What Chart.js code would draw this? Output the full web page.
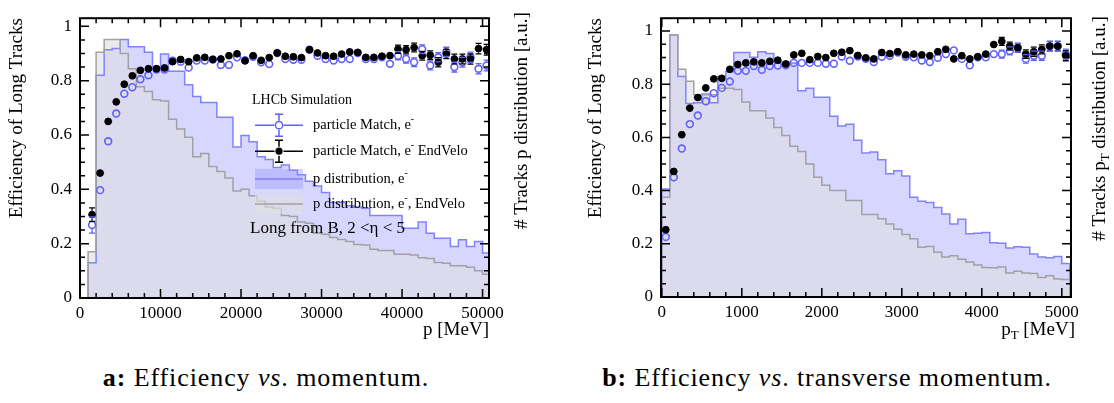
<!DOCTYPE html>
<html>
<head>
<meta charset="utf-8">
<script src="https://cdn.jsdelivr.net/npm/chart.js@4.4.0/dist/chart.umd.min.js"></script>
<style>
  body { margin: 0; background: #fff; width: 1114px; height: 403px; position: relative; overflow: hidden; }
  #efiP { position: absolute; left: 0; top: 0; }
  #efiPT { position: absolute; left: 560px; top: 0; }
  .legenda { position: absolute; top: 363px; font-family: "Liberation Serif", serif; font-size: 26px; letter-spacing: 0.9px; color: #000; white-space: nowrap; transform: translateX(-50%); }
</style>
</head>
<body>
<canvas id="efiP" width="545" height="345"></canvas>
<canvas id="efiPT" width="554" height="345"></canvas>
<div class="legenda" style="left:266px"><b>a:</b> Efficiency <i>vs</i>. momentum.</div>
<div class="legenda" style="left:827px"><b>b:</b> Efficiency <i>vs</i>. transverse momentum.</div>
<script>
// ---------- DADOS ----------
var ticksEff = [0, 0.2, 0.4, 0.6, 0.8, 1];

// painel a: momento p [MeV], bins de 1000 a partir de 1000
var ticksP = [0, 10000, 20000, 30000, 40000, 50000];
var inicioP = 1000;
var larguraP = 1000;
var histP = [0.13, 0.82, 0.914, 0.918, 0.952, 0.925, 0.925, 0.905, 0.85, 0.898,
             0.835, 0.835, 0.785, 0.742, 0.72, 0.72, 0.665, 0.665, 0.556, 0.598,
             0.575, 0.52, 0.51, 0.48, 0.49, 0.47, 0.454, 0.43, 0.412, 0.388,
             0.352, 0.352, 0.34, 0.335, 0.33, 0.304, 0.304, 0.304, 0.304, 0.257,
             0.257, 0.28, 0.238, 0.22, 0.22, 0.19, 0.214, 0.19, 0.208, 0.166];
var histPEndVelo = [0.17, 0.905, 0.952, 0.952, 0.90, 0.844, 0.778, 0.76, 0.73, 0.725,
                    0.658, 0.622, 0.592, 0.52, 0.532, 0.484, 0.466, 0.442, 0.394, 0.40,
                    0.376, 0.356, 0.335, 0.33, 0.304, 0.30, 0.28, 0.275, 0.238, 0.235,
                    0.223, 0.215, 0.208, 0.197, 0.195, 0.179, 0.175, 0.175, 0.161, 0.161,
                    0.158, 0.148, 0.145, 0.131, 0.128, 0.119, 0.119, 0.113, 0.10, 0.087];
var effP = [0.269, 0.397, 0.577, 0.679, 0.752, 0.776, 0.805, 0.82, 0.841, 0.841,
            0.874, 0.87, 0.848, 0.874, 0.874, 0.878, 0.858, 0.858, 0.886, 0.875,
            0.888, 0.868, 0.861, 0.902, 0.88, 0.877, 0.877, 0.914, 0.892, 0.88,
            0.874, 0.88, 0.88, 0.902, 0.88, 0.88, 0.886, 0.862, 0.892, 0.88,
            0.868, 0.916, 0.856, 0.886, 0.906, 0.85, 0.868, 0.886, 0.844, 0.856];
var errP = [0.03, 0.01, 0.008, 0.007, 0.006, 0.006, 0.006, 0.006, 0.006, 0.006,
            0.006, 0.006, 0.007, 0.007, 0.007, 0.007, 0.008, 0.008, 0.008, 0.008,
            0.009, 0.009, 0.009, 0.01, 0.01, 0.01, 0.01, 0.011, 0.011, 0.011,
            0.012, 0.012, 0.012, 0.013, 0.013, 0.013, 0.014, 0.014, 0.015, 0.015,
            0.016, 0.016, 0.016, 0.017, 0.017, 0.018, 0.018, 0.019, 0.019, 0.02];
var effPEndVelo = [0.307, 0.46, 0.65, 0.722, 0.787, 0.818, 0.838, 0.844, 0.844, 0.847,
                   0.87, 0.878, 0.87, 0.884, 0.886, 0.878, 0.88, 0.892, 0.899, 0.873,
                   0.892, 0.875, 0.885, 0.902, 0.89, 0.888, 0.885, 0.914, 0.902, 0.892,
                   0.89, 0.898, 0.906, 0.904, 0.886, 0.886, 0.89, 0.892, 0.916, 0.914,
                   0.922, 0.892, 0.894, 0.868, 0.898, 0.88, 0.88, 0.88, 0.918, 0.914];
var errPEndVelo = [0.025, 0.009, 0.008, 0.007, 0.006, 0.006, 0.006, 0.006, 0.006, 0.006,
                   0.006, 0.006, 0.007, 0.007, 0.007, 0.007, 0.008, 0.008, 0.008, 0.008,
                   0.009, 0.009, 0.009, 0.01, 0.01, 0.01, 0.01, 0.011, 0.011, 0.011,
                   0.012, 0.012, 0.012, 0.013, 0.013, 0.013, 0.014, 0.014, 0.015, 0.015,
                   0.016, 0.016, 0.016, 0.017, 0.017, 0.018, 0.018, 0.019, 0.019, 0.02];

// painel b: momento transverso pT [MeV], bins de 100 a partir de 0
var ticksPT = [0, 1000, 2000, 3000, 4000, 5000];
var inicioPT = 0;
var larguraPT = 100;
var histPT = [0.406, 0.985, 0.829, 0.727, 0.73, 0.763, 0.73, 0.829, 0.847, 0.919,
              0.919, 0.901, 0.922, 0.915, 0.883, 0.883, 0.88, 0.775, 0.785, 0.751,
              0.751, 0.679, 0.643, 0.649, 0.589, 0.541, 0.545, 0.516, 0.463, 0.475,
              0.455, 0.375, 0.36, 0.355, 0.336, 0.312, 0.274, 0.292, 0.238, 0.24,
              0.242, 0.204, 0.202, 0.184, 0.189, 0.187, 0.162, 0.15, 0.148, 0.152, 0.126];
var histPTEndVelo = [0.375, 0.985, 0.856, 0.811, 0.76, 0.76, 0.76, 0.785, 0.785, 0.78,
                     0.733, 0.70, 0.70, 0.673, 0.637, 0.607, 0.567, 0.547, 0.50, 0.45,
                     0.42, 0.40, 0.40, 0.363, 0.363, 0.31, 0.31, 0.294, 0.274, 0.255,
                     0.235, 0.219, 0.187, 0.19, 0.168, 0.15, 0.155, 0.142, 0.132, 0.12,
                     0.111, 0.11, 0.113, 0.09, 0.097, 0.09, 0.088, 0.073, 0.08, 0.068, 0.066];
var effPT = [0.226, 0.45, 0.558, 0.65, 0.682, 0.736, 0.766, 0.786, 0.81, 0.85,
             0.85, 0.868, 0.854, 0.868, 0.87, 0.871, 0.88, 0.88, 0.88, 0.88,
             0.877, 0.877, 0.904, 0.888, 0.904, 0.895, 0.883, 0.903, 0.907, 0.919,
             0.903, 0.901, 0.889, 0.883, 0.899, 0.913, 0.927, 0.895, 0.871, 0.901,
             0.901, 0.913, 0.913, 0.925, 0.937, 0.895, 0.907, 0.907, 0.943, 0.943, 0.913];
var errPT = [0.012, 0.008, 0.007, 0.006, 0.006, 0.005, 0.005, 0.005, 0.005, 0.005,
             0.005, 0.005, 0.005, 0.005, 0.005, 0.006, 0.006, 0.006, 0.006, 0.006,
             0.007, 0.007, 0.007, 0.007, 0.008, 0.008, 0.008, 0.009, 0.009, 0.009,
             0.01, 0.01, 0.01, 0.011, 0.011, 0.011, 0.012, 0.012, 0.013, 0.013,
             0.014, 0.014, 0.015, 0.015, 0.016, 0.016, 0.017, 0.017, 0.018, 0.018, 0.019];
var effPTEndVelo = [0.253, 0.472, 0.61, 0.71, 0.75, 0.786, 0.82, 0.822, 0.856, 0.874,
                    0.88, 0.884, 0.88, 0.886, 0.89, 0.876, 0.91, 0.916, 0.892, 0.904,
                    0.9, 0.916, 0.92, 0.926, 0.908, 0.899, 0.895, 0.919, 0.915, 0.922,
                    0.91, 0.913, 0.91, 0.907, 0.922, 0.931, 0.895, 0.907, 0.895, 0.903,
                    0.913, 0.949, 0.961, 0.943, 0.937, 0.913, 0.922, 0.931, 0.943, 0.943, 0.907];
var errPTEndVelo = errPT;

// ---------- CORES / FONTES ----------
var AZUL = '#6060f8';
var AZUL_LINHA = '#8282ff';
var AZUL_FUNDO = 'rgba(140,140,255,0.36)';
var CINZA_LINHA = '#a2a2a2';
var CINZA_FUNDO = 'rgba(222,222,226,0.62)';
var FONTE = "'Liberation Serif', serif";

Chart.defaults.font.family = FONTE;
Chart.defaults.color = '#000';

function histPontos(valores, inicio, largura) {
    var pts = [{x: inicio, y: 0}];
    valores.forEach(function (v, i) {
        pts.push({x: inicio + i * largura, y: v});
    });
    pts.push({x: inicio + valores.length * largura, y: 0});
    return pts;
}

function pontos(valores, inicio, largura) {
    return valores.map(function (v, i) {
        return {x: inicio + (i + 0.5) * largura, y: v};
    });
}

// texto com sub/sobrescrito: partes = [[texto, ''|'sub'|'sup'], ...]
function textoComposto(ctx, partes, x, y, tam, alinhar) {
    var larg = partes.map(function (p) {
        ctx.font = (p[1] ? tam * 0.68 : tam) + 'px ' + FONTE;
        return ctx.measureText(p[0]).width;
    });
    var total = larg.reduce(function (a, b) { return a + b; }, 0);
    var cx = alinhar === 'right' ? x - total : (alinhar === 'center' ? x - total / 2 : x);
    ctx.textAlign = 'left';
    ctx.textBaseline = 'middle';
    ctx.fillStyle = '#000';
    partes.forEach(function (p, i) {
        var dy = p[1] === 'sub' ? tam * 0.32 : (p[1] === 'sup' ? -tam * 0.38 : 0);
        ctx.font = (p[1] ? tam * 0.68 : tam) + 'px ' + FONTE;
        ctx.fillText(p[0], cx, y + dy);
        cx += larg[i];
    });
}

// moldura estilo ROOT com ticks para dentro
var moldura = {
    id: 'moldura',
    afterDraw: function (chart, args, o) {
        var a = chart.chartArea, ctx = chart.ctx;
        var sx = chart.scales.x, sy = chart.scales.y;
        ctx.save();
        ctx.strokeStyle = '#000';
        ctx.lineWidth = 1.5;
        var i, v, p, maior, len;
        for (i = 0; ; i++) {
            v = o.xMenor * i;
            if (v > sx.max) break;
            if (v < sx.min) continue;
            maior = Math.abs(v / o.xMaior - Math.round(v / o.xMaior)) < 1e-6;
            len = maior ? 9 : 5;
            p = sx.getPixelForValue(v);
            ctx.beginPath();
            ctx.moveTo(p, a.bottom); ctx.lineTo(p, a.bottom - len);
            ctx.moveTo(p, a.top); ctx.lineTo(p, a.top + len);
            ctx.stroke();
        }
        for (i = 0; ; i++) {
            v = 0.05 * i;
            if (v > sy.max + 1e-9) break;
            maior = i % 4 === 0;
            len = maior ? 9 : 5;
            p = sy.getPixelForValue(v);
            ctx.beginPath();
            ctx.moveTo(a.left, p); ctx.lineTo(a.left + len, p);
            ctx.moveTo(a.right, p); ctx.lineTo(a.right - len, p);
            ctx.stroke();
        }
        ctx.lineWidth = 2;
        ctx.strokeRect(a.left, a.top, a.right - a.left, a.bottom - a.top);

        // titulo do eixo da direita (lido de baixo para cima)
        ctx.save();
        ctx.translate(a.right + o.direitaDx, a.top - o.direitaTopo);
        ctx.rotate(-Math.PI / 2);
        textoComposto(ctx, o.direita, 0, 0, 19, 'right');
        ctx.restore();
        if (o.tituloX) {
            textoComposto(ctx, o.tituloX, a.right + 4, a.bottom + 33, 19, 'right');
        }
        ctx.restore();
    }
};

// barras de erro (x = meio bin, y = erro), sem cruzar o marcador
var barrasDeErro = {
    id: 'barrasDeErro',
    afterDatasetsDraw: function (chart) {
        var ctx = chart.ctx, sx = chart.scales.x, sy = chart.scales.y;
        ctx.save();
        chart.data.datasets.forEach(function (ds) {
            if (!ds.erros) return;
            ctx.strokeStyle = ds.borderColor;
            ctx.lineWidth = 1.3;
            var r = ds.pointRadius + 0.5;
            ds.data.forEach(function (pt, i) {
                var px = sx.getPixelForValue(pt.x), py = sy.getPixelForValue(pt.y);
                var x0 = sx.getPixelForValue(pt.x - ds.meioBin), x1 = sx.getPixelForValue(pt.x + ds.meioBin);
                var y0 = sy.getPixelForValue(pt.y + ds.erros[i]), y1 = sy.getPixelForValue(pt.y - ds.erros[i]);
                if (px > chart.chartArea.right + 1) return;
                ctx.beginPath();
                if (px - x0 > r) {
                    ctx.moveTo(x0, py); ctx.lineTo(px - r, py);
                    ctx.moveTo(px + r, py); ctx.lineTo(x1, py);
                }
                if (py - y0 > r) {
                    ctx.moveTo(px, y0); ctx.lineTo(px, py - r);
                    ctx.moveTo(px, py + r); ctx.lineTo(px, y1);
                    ctx.moveTo(px - 3, y0); ctx.lineTo(px + 3, y0);
                    ctx.moveTo(px - 3, y1); ctx.lineTo(px + 3, y1);
                }
                ctx.stroke();
            });
        });
        ctx.restore();
    }
};

// legenda do painel a
var legendaP = {
    id: 'legendaP',
    afterDraw: function (chart) {
        var ctx = chart.ctx, a = chart.chartArea;
        var x0 = a.left + 175, x1 = a.left + 223, xm = (x0 + x1) / 2, xt = a.left + 233;
        ctx.save();
        textoComposto(ctx, [['LHCb Simulation', '']], a.left + 172, a.top + 82, 14, 'left');

        var linhas = [a.top + 107, a.top + 133, a.top + 160.7, a.top + 185.7];
        // marcadores
        [[AZUL, false], ['#000', true]].forEach(function (m, j) {
            var y = linhas[j];
            ctx.strokeStyle = m[0];
            ctx.lineWidth = 1.5;
            ctx.beginPath();
            ctx.moveTo(x0, y); ctx.lineTo(xm - 4.5, y);
            ctx.moveTo(xm + 4.5, y); ctx.lineTo(x1, y);
            ctx.moveTo(xm, y - 11); ctx.lineTo(xm, y - 4.5);
            ctx.moveTo(xm, y + 4.5); ctx.lineTo(xm, y + 11);
            ctx.moveTo(xm - 4, y - 11); ctx.lineTo(xm + 4, y - 11);
            ctx.moveTo(xm - 4, y + 11); ctx.lineTo(xm + 4, y + 11);
            ctx.stroke();
            ctx.beginPath();
            ctx.arc(xm, y, 3.6, 0, Math.PI * 2);
            if (m[1]) { ctx.fillStyle = m[0]; ctx.fill(); } else { ctx.stroke(); }
        });
        // caixas dos histogramas
        [[AZUL_FUNDO, AZUL_LINHA], [CINZA_FUNDO, CINZA_LINHA]].forEach(function (m, j) {
            var y = linhas[j + 2];
            ctx.fillStyle = m[0];
            ctx.fillRect(x0, y - 10, x1 - x0, 20);
            ctx.strokeStyle = m[1];
            ctx.lineWidth = 1.5;
            ctx.beginPath(); ctx.moveTo(x0, y); ctx.lineTo(x1, y); ctx.stroke();
        });
        textoComposto(ctx, [['particle Match, e', ''], ['-', 'sup']], xt, linhas[0], 14.5, 'left');
        textoComposto(ctx, [['particle Match, e', ''], ['-', 'sup'], [' EndVelo', '']], xt, linhas[1], 14.5, 'left');
        textoComposto(ctx, [['p distribution, e', ''], ['-', 'sup']], xt, linhas[2], 14.5, 'left');
        textoComposto(ctx, [['p distribution, e', ''], ['-', 'sup'], [', EndVelo', '']], xt, linhas[3], 14.5, 'left');
        textoComposto(ctx, [['Long from B, 2 <\u03b7 < 5', '']], a.left + 170, a.top + 210.7, 17, 'left');
        ctx.restore();
    }
};

function rotuloSimples(v) {
    return String(v);
}

function montaGrafico(id, cfg) {
    var datasets = [{
        label: 'particle Match, e- EndVelo',
        data: pontos(cfg.effEndVelo, cfg.inicio, cfg.largura),
        erros: cfg.errEndVelo,
        meioBin: cfg.largura / 2,
        pointStyle: 'circle',
        pointRadius: 3.4,
        pointBorderWidth: 1,
        borderColor: '#000',
        backgroundColor: '#000'
    }, {
        label: 'particle Match, e-',
        data: pontos(cfg.eff, cfg.inicio, cfg.largura),
        erros: cfg.err,
        meioBin: cfg.largura / 2,
        pointStyle: 'circle',
        pointRadius: 3.4,
        pointBorderWidth: 1.6,
        borderColor: AZUL,
        backgroundColor: 'rgba(0,0,0,0)'
    }, {
        type: 'line',
        label: 'distribution, e-, EndVelo',
        data: histPontos(cfg.histEndVelo, cfg.inicio, cfg.largura),
        stepped: 'before',
        showLine: true,
        fill: 'origin',
        borderColor: CINZA_LINHA,
        backgroundColor: CINZA_FUNDO,
        borderWidth: 1.5,
        pointRadius: 0
    }, {
        type: 'line',
        label: 'distribution, e-',
        data: histPontos(cfg.hist, cfg.inicio, cfg.largura),
        stepped: 'before',
        showLine: true,
        fill: 'origin',
        borderColor: AZUL_LINHA,
        backgroundColor: AZUL_FUNDO,
        borderWidth: 1.5,
        pointRadius: 0
    }];

    var plugins = [moldura, barrasDeErro];
    if (cfg.legenda) plugins.push(cfg.legenda);

    return new Chart(document.getElementById(id).getContext('2d'), {
        type: 'scatter',
        data: {datasets: datasets},
        options: {
            responsive: false,
            animation: false,
            events: [],
            layout: {padding: {top: cfg.topo, right: cfg.direita, left: 0, bottom: 0}},
            scales: {
                x: {
                    type: 'linear',
                    min: cfg.xMin,
                    max: cfg.xMax,
                    afterBuildTicks: function (s) { s.ticks = cfg.ticksX.map(function (v) { return {value: v}; }); },
                    afterFit: function (s) { s.height = cfg.alturaX; },
                    grid: {display: false, drawTicks: false},
                    border: {display: false},
                    ticks: {font: {size: 17}, padding: 5, maxRotation: 0, autoSkip: false, callback: rotuloSimples},
                    title: {
                        display: !!cfg.tituloX,
                        text: cfg.tituloX || '',
                        align: 'end',
                        font: {size: 19},
                        padding: {top: 0, bottom: 4}
                    }
                },
                y: {
                    min: 0,
                    max: cfg.yMax,
                    afterBuildTicks: function (s) { s.ticks = ticksEff.map(function (v) { return {value: v}; }); },
                    afterFit: function (s) { s.width = cfg.larguraY; },
                    grid: {display: false, drawTicks: false},
                    border: {display: false},
                    ticks: {font: {size: 17}, padding: 8, callback: rotuloSimples},
                    title: {
                        display: true,
                        text: 'Efficiency of Long Tracks',
                        align: 'end',
                        font: {size: 19},
                        padding: {top: cfg.padTituloY, bottom: 0}
                    }
                }
            },
            plugins: {
                legend: {display: false},
                tooltip: {enabled: false},
                filler: {drawTime: 'beforeDatasetsDraw'},
                moldura: {
                    xMaior: cfg.xMaior,
                    xMenor: cfg.xMenor,
                    direita: cfg.tituloDireita,
                    direitaDx: cfg.direitaDx,
                    direitaTopo: cfg.direitaTopo,
                    tituloX: cfg.tituloXComposto
                }
            }
        },
        plugins: plugins
    });
}

//GRAFICO a: eficiencia vs p
montaGrafico('efiP', {
    inicio: inicioP, largura: larguraP,
    hist: histP, histEndVelo: histPEndVelo,
    eff: effP, err: errP, effEndVelo: effPEndVelo, errEndVelo: errPEndVelo,
    ticksX: ticksP, xMin: 0, xMax: 50800, xMaior: 10000, xMenor: 2000,
    yMax: 1.03, topo: 11, direita: 56, alturaX: 47, larguraY: 80, padTituloY: 6,
    tituloX: 'p [MeV]',
    tituloDireita: [['# Tracks p distribution [a.u.]', '']],
    direitaDx: 33, direitaTopo: 6,
    legenda: legendaP
});

//GRAFICO b: eficiencia vs pT
montaGrafico('efiPT', {
    inicio: inicioPT, largura: larguraPT,
    hist: histPT, histEndVelo: histPTEndVelo,
    eff: effPT, err: errPT, effEndVelo: effPTEndVelo, errEndVelo: errPTEndVelo,
    ticksX: ticksPT, xMin: -10, xMax: 5115, xMaior: 1000, xMenor: 200,
    yMax: 1.048, topo: 7, direita: 43, alturaX: 48, larguraY: 101, padTituloY: 25,
    tituloX: null,
    tituloXComposto: [['p', ''], ['T', 'sub'], [' [MeV]', '']],
    tituloDireita: [['# Tracks p', ''], ['T', 'sub'], [' distribution [a.u.]', '']],
    direitaDx: 29, direitaTopo: 2
});
</script>
</body>
</html>
